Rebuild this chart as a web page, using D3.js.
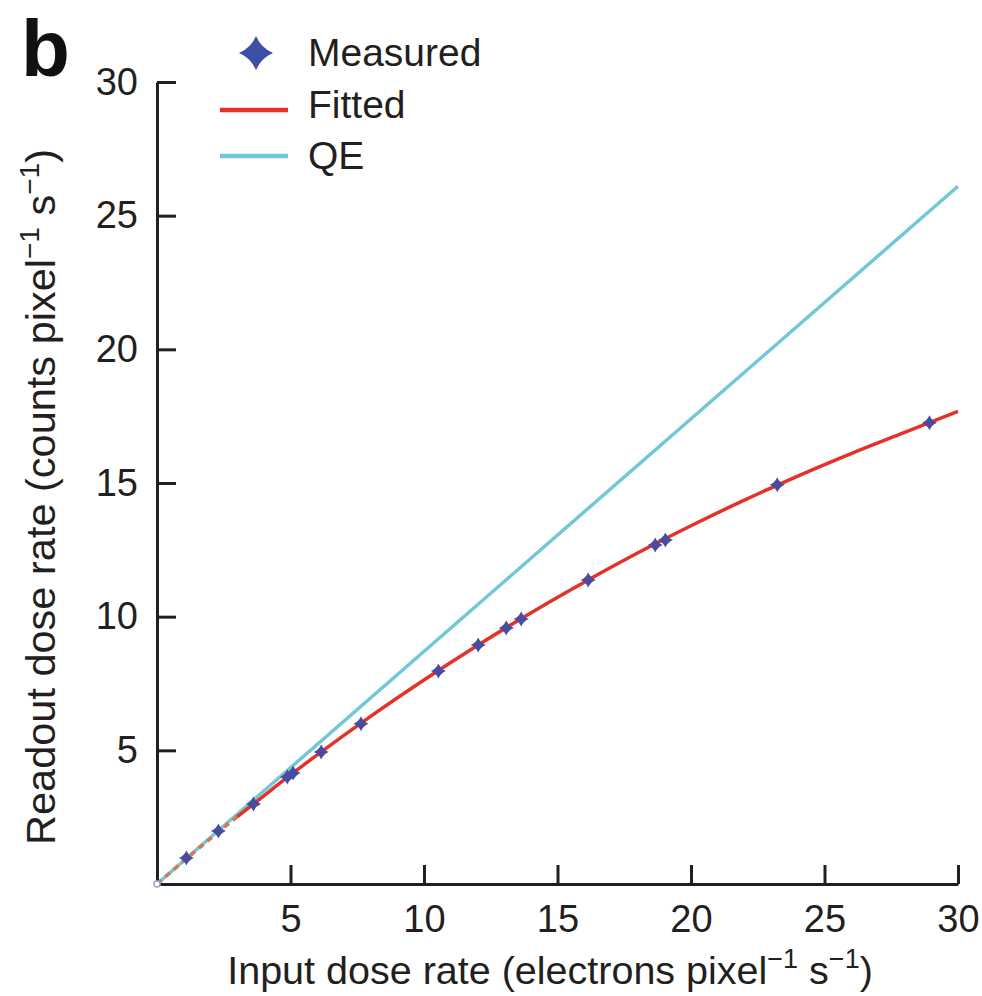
<!DOCTYPE html>
<html>
<head>
<meta charset="utf-8">
<script src="https://cdn.jsdelivr.net/npm/d3@7"></script>
<style>
  html, body { margin: 0; padding: 0; background: #fff; }
  svg { display: block; font-family: "Liberation Sans", Arial, Helvetica, sans-serif; }
</style>
</head>
<body>
<svg id="chart" width="982" height="996"></svg>
<script>
// ---- Data ----
const measuredX = [1.10, 2.30, 3.61, 4.88, 5.10, 6.15, 7.64, 10.54, 12.03, 13.08, 13.64, 16.15, 18.66, 19.04, 23.23, 28.93];
const measuredY = [0.97, 1.98, 2.99, 4.00, 4.15, 4.94, 5.99, 7.97, 8.94, 9.58, 9.91, 11.37, 12.68, 12.87, 14.93, 17.25];

const fittedX = [0, 1, 2, 3, 4, 5, 6, 8, 10, 12, 14, 16, 18, 20, 22, 24, 26, 28, 30];
const fittedY = [0, 0.86, 1.70, 2.51, 3.30, 4.08, 4.83, 6.27, 7.63, 8.92, 10.14, 11.29, 12.38, 13.40, 14.36, 15.26, 16.10, 16.89, 17.68];

const qeX = [0, 30];
const qeY = [0, 26.1];

const xTicks = [5, 10, 15, 20, 25, 30];
const yTicks = [5, 10, 15, 20, 25, 30];

const legendLabels = ["Measured", "Fitted", "QE"];

// ---- Styles ----
const COL_RED = "#e3322a";
const COL_CYAN = "#72c7d8";
const COL_BLUE = "#3d4fa6";
const COL_AXIS = "#231f20";

const svg = d3.select("#chart");

const x = d3.scaleLinear().domain([0, 30]).range([157, 958]);
const y = d3.scaleLinear().domain([0, 30]).range([884, 82]);

// 4-point star marker
function star(r) {
  const c = r * 0.3;
  return `M0,${-r} Q${c},${-c} ${r},0 Q${c},${c} 0,${r} Q${-c},${c} ${-r},0 Q${-c},${-c} 0,${-r} Z`;
}

// ---- Axes ----
const xAxis = d3.axisBottom(x).tickValues(xTicks).tickSizeInner(-19).tickSizeOuter(0).tickPadding(21)
  .tickFormat(d3.format("d"));
const yAxis = d3.axisLeft(y).tickValues(yTicks).tickSizeInner(-19).tickSizeOuter(0).tickPadding(19)
  .tickFormat(d3.format("d"));

const gx = svg.append("g").attr("transform", `translate(0,${y(0)})`).call(xAxis);
const gy = svg.append("g").attr("transform", `translate(${x(0)},0)`).call(yAxis);

[gx, gy].forEach(g => {
  g.select(".domain").attr("stroke", COL_AXIS).attr("stroke-width", 3);
  g.selectAll(".tick line").attr("stroke", COL_AXIS).attr("stroke-width", 3);
  g.selectAll(".tick text").attr("fill", COL_AXIS).attr("font-size", 38)
    .attr("font-family", "Liberation Sans, Arial, sans-serif");
});

// ---- Lines ----
const line = d3.line().x(d => x(d[0])).y(d => y(d[1])).curve(d3.curveMonotoneX);

const qeData = qeX.map((v, i) => [v, qeY[i]]);
const fitData = fittedX.map((v, i) => [v, fittedY[i]]);

svg.append("path").datum(qeData).attr("d", line)
  .attr("fill", "none").attr("stroke", COL_CYAN).attr("stroke-width", 3.5);

// dashed near origin, solid afterwards
svg.append("path").datum(fitData.filter(d => d[0] <= 3)).attr("d", line)
  .attr("fill", "none").attr("stroke", "#d9774f").attr("stroke-width", 3.5)
  .attr("stroke-dasharray", "6,5");
svg.append("path").datum(fitData.filter(d => d[0] >= 3)).attr("d", line)
  .attr("fill", "none").attr("stroke", COL_RED).attr("stroke-width", 3.5);

// origin marker
svg.append("circle").attr("cx", x(0)).attr("cy", y(0)).attr("r", 3)
  .attr("fill", "#fff").attr("stroke", "#9aa6c8").attr("stroke-width", 1.5);

// ---- Measured points ----
const measData = measuredX.map((v, i) => [v, measuredY[i]]);
svg.append("g").selectAll("path").data(measData).join("path")
  .attr("transform", d => `translate(${x(d[0])},${y(d[1])})`)
  .attr("d", star(7.5))
  .attr("fill", "#4a4a9e");

// ---- Legend ----
const lg = svg.append("g");
lg.append("path").attr("transform", "translate(256,53)").attr("d", star(17)).attr("fill", COL_BLUE);
lg.append("line").attr("x1", 220).attr("x2", 288).attr("y1", 110).attr("y2", 110)
  .attr("stroke", COL_RED).attr("stroke-width", 4.5);
lg.append("line").attr("x1", 220).attr("x2", 288).attr("y1", 156).attr("y2", 156)
  .attr("stroke", COL_CYAN).attr("stroke-width", 4.5);
const legY = [66, 118, 169];
lg.selectAll("text").data(legendLabels).join("text")
  .attr("x", 308).attr("y", (d, i) => legY[i])
  .attr("font-size", 39).attr("fill", COL_AXIS).text(d => d);

// ---- Panel label ----
svg.append("text").attr("x", 21).attr("y", 76).attr("font-size", 80).attr("font-weight", "bold")
  .attr("fill", "#111").text("b");

// ---- Axis titles ----
const xt = svg.append("text").attr("x", 550).attr("y", 984).attr("text-anchor", "middle")
  .attr("font-size", 39.5).attr("fill", COL_AXIS);
xt.append("tspan").text("Input dose rate (electrons pixel");
xt.append("tspan").attr("dy", -16).attr("font-size", 27).text("\u22121");
xt.append("tspan").attr("dy", 16).text(" s");
xt.append("tspan").attr("dy", -16).attr("font-size", 27).text("\u22121");
xt.append("tspan").attr("dy", 16).text(")");

const yt = svg.append("text").attr("transform", "translate(55,497) rotate(-90)").attr("text-anchor", "middle")
  .attr("font-size", 41.5).attr("fill", COL_AXIS);
yt.append("tspan").text("Readout dose rate (counts pixel");
yt.append("tspan").attr("dy", -16).attr("font-size", 28).text("\u22121");
yt.append("tspan").attr("dy", 16).text(" s");
yt.append("tspan").attr("dy", -16).attr("font-size", 28).text("\u22121");
yt.append("tspan").attr("dy", 16).text(")");
</script>
</body>
</html>
